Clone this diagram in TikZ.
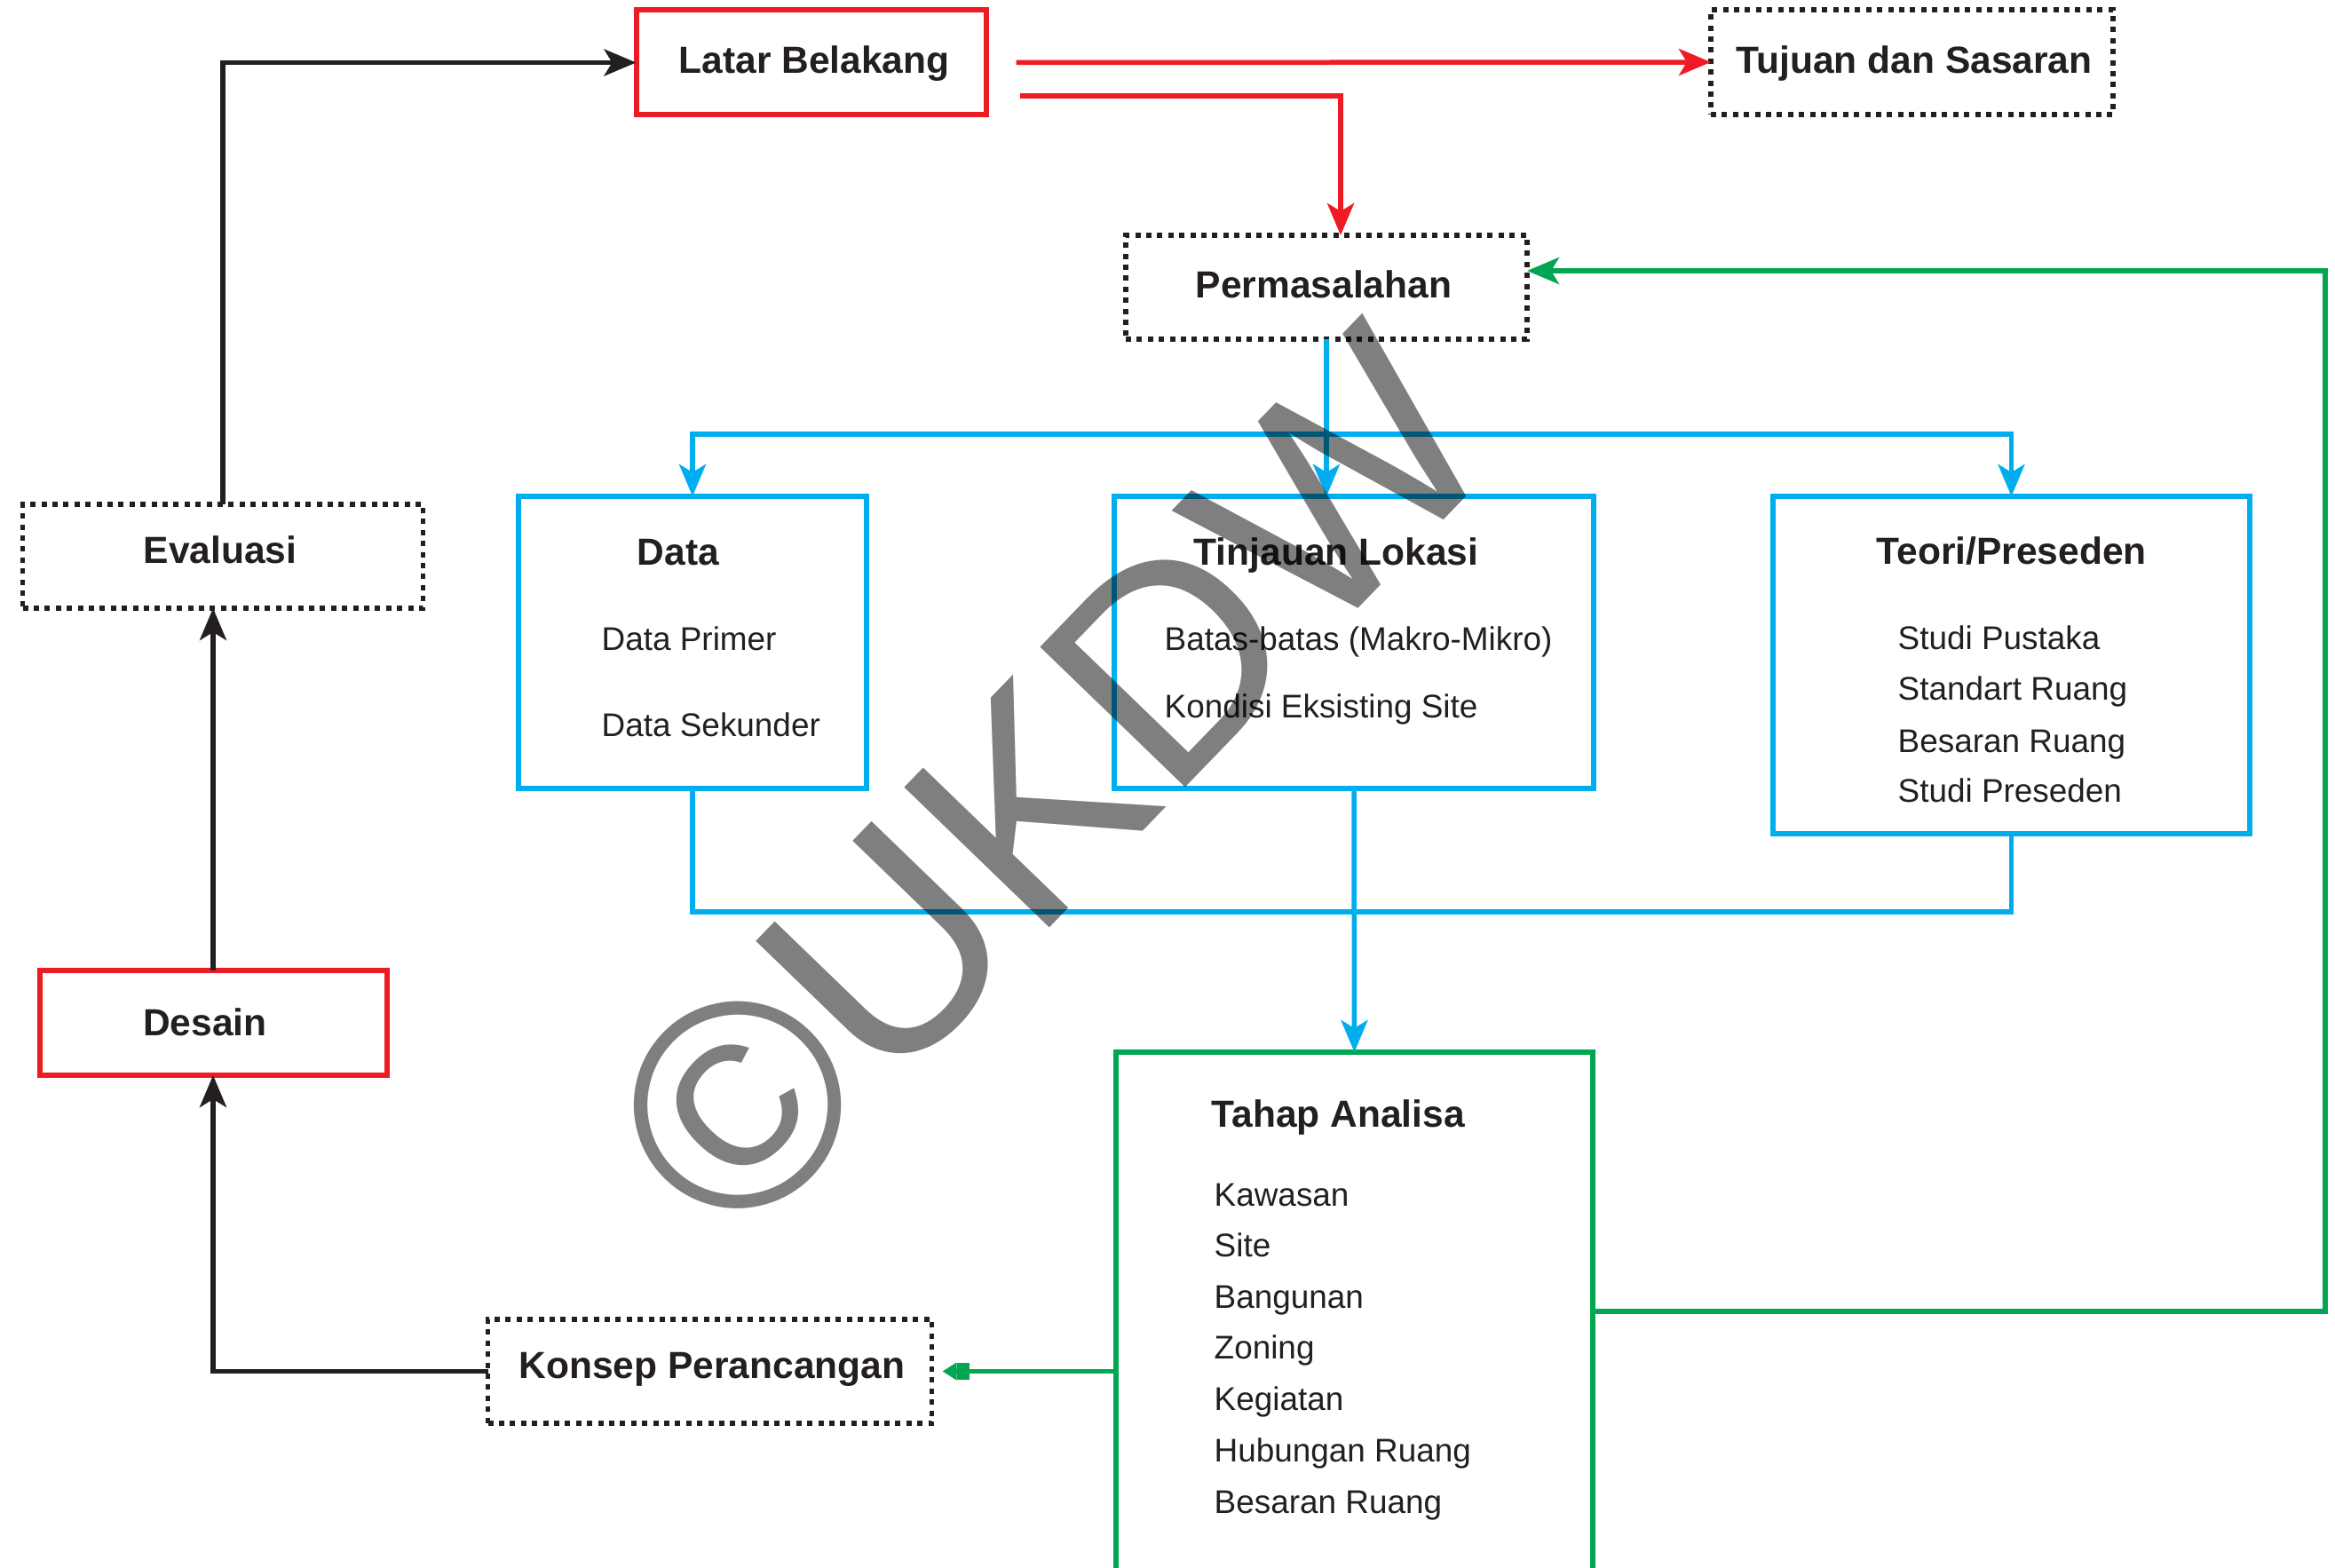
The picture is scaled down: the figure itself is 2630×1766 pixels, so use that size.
\documentclass[tikz,border=0pt]{standalone}
\usepackage{fontspec}
\setmainfont{Liberation Sans}
\usetikzlibrary{arrows.meta}
\definecolor{cred}{HTML}{ED1C24}
\definecolor{cblue}{HTML}{00AEEF}
\definecolor{cgreen}{HTML}{00A651}
\definecolor{cdark}{HTML}{231F20}
\tikzset{
  boxbase/.style={rectangle, inner sep=0pt, outer sep=0pt, line width=0.6mm},
  redbox/.style={boxbase, draw=cred},
  bluebox/.style={boxbase, draw=cblue},
  greenbox/.style={boxbase, draw=cgreen},
  dotbox/.style={boxbase, line width=0.55mm, draw=cdark, dash pattern=on 0.6mm off 0.64mm},
  ttl/.style={inner sep=0pt, anchor=base, text=cdark, font=\fontsize{12.1pt}{14pt}\selectfont\bfseries},
  ttlw/.style={ttl, anchor=base west},
  itm/.style={inner sep=0pt, anchor=base west, text=cdark, font=\fontsize{10.5pt}{13pt}\selectfont},
  conn/.style={line width=0.55mm},
  tipa/.style={-{Stealth[length=3.6mm,width=3mm,inset=0.9mm]}},
  tipb/.style={{Stealth[length=3.6mm,width=3mm,inset=0.9mm]}-{Stealth[length=3.6mm,width=3mm,inset=0.9mm]}},
  tipg/.style={-{Rectangle[length=1.4mm,width=1.9mm,sep=0pt]Triangle[length=1.6mm,width=1.9mm,sep=0pt]}},
}
\begin{document}
\begin{tikzpicture}[x=0.1mm,y=-0.1mm]
\useasboundingbox (0,0) rectangle (2630,1766);
\clip (0,0) rectangle (2630,1766);
\fill[white] (0,0) rectangle (2630,1766);

% boxes
\node[redbox, minimum width=39.4mm, minimum height=11.8mm] (lb) at (913.5,70.5) {};
\node[dotbox, minimum width=45.3mm, minimum height=11.8mm] (tj) at (2153.5,70) {};
\node[dotbox, minimum width=45.2mm, minimum height=11.7mm] (pm) at (1494,323.5) {};
\node[dotbox, minimum width=45.1mm, minimum height=11.7mm] (ev) at (251,626.5) {};
\node[redbox, minimum width=39.1mm, minimum height=11.8mm] (ds) at (240,1152) {};
\node[dotbox, minimum width=50.0mm, minimum height=11.7mm] (kp) at (799.5,1544.5) {};
\node[bluebox, minimum width=39.2mm, minimum height=32.9mm] (da) at (780,723.5) {};
\node[bluebox, minimum width=54.0mm, minimum height=32.9mm] (tl) at (1525,723.5) {};
\node[bluebox, minimum width=53.7mm, minimum height=38.0mm] (tp) at (2265.5,749) {};
\node[greenbox, minimum width=53.7mm, minimum height=62.1mm] (ta) at (1525.5,1495.5) {};

% connectors
\draw[conn, cdark, tipa] (ev.north) |- (lb.west);
\draw[conn, cdark, tipa] (ds.north) -- (ds.north |- ev.south);
\draw[conn, cdark, tipa] (kp.west) -| (ds.south);

\draw[conn, cred, tipa, shorten <=3.4mm] (lb.east) -- (tj.west);
\coordinate (r2) at (1149,108);
\coordinate (r2c) at (1510,108);
\draw[conn, cred, tipa] (r2) -- (r2c) -- (r2c |- pm.north);

\coordinate (gbr) at (2619,1477);
\coordinate (gtr) at (2619,305);
\draw[conn, cgreen, tipa] (gbr -| ta.east) -- (gbr) -- (gtr) -- (gtr -| pm.east);
\draw[conn, cgreen, tipg, shorten >=1.2mm] (ta.west |- kp.east) -- (kp.east);

\coordinate (bt) at (0,489);
\coordinate (bb) at (0,1027);
\draw[conn, cblue, tipa] (pm.south) -- (pm.south |- tl.north);
\draw[conn, cblue, tipb] (da.north) -- (da.north |- bt) -- (tp.north |- bt) -- (tp.north);
\draw[conn, cblue] (da.south) -- (da.south |- bb) -- (tp.south |- bb) -- (tp.south);
\draw[conn, cblue, tipa] (tl.south) -- (ta.north);

% texts
\node[ttl] (tlb) at (917,83) {Latar Belakang};
\node[ttl] (ttj) at (2156,83) {Tujuan dan Sasaran};
\node[ttl] (tpm) at (1491,336) {Permasalahan};
\node[ttl] (tev) at (248,635) {Evaluasi};
\node[ttl] (tds) at (231,1166) {Desain};
\node[ttl] (tkp) at (802,1552) {Konsep Perancangan};

\node[ttlw] (tda) at (717,637) {Data};
\node[itm] (da1) at (677,733) {Data Primer};
\node[itm] (da2) at (677,830) {Data Sekunder};

\node[ttlw] (ttl) at (1344,637) {Tinjauan Lokasi};
\node[itm] (tl1) at (1311,733) {Batas-batas (Makro-Mikro)};
\node[itm] (tl2) at (1311,809) {Kondisi Eksisting Site};

\node[ttlw] (ttp) at (2113,636) {Teori/Preseden};
\node[itm] (tp1) at (2137,732) {Studi Pustaka};
\node[itm] (tp2) at (2137,789) {Standart Ruang};
\node[itm] (tp3) at (2137,848) {Besaran Ruang};
\node[itm] (tp4) at (2137,904) {Studi Preseden};

\node[ttlw] (tta) at (1364,1269) {Tahap Analisa};
\node[itm] (ta1) at (1367,1358) {Kawasan};
\node[itm] (ta2) at (1367,1415) {Site};
\node[itm] (ta3) at (1367,1473) {Bangunan};
\node[itm] (ta4) at (1367,1530) {Zoning};
\node[itm] (ta5) at (1367,1588) {Kegiatan};
\node[itm] (ta6) at (1367,1646) {Hubungan Ruang};
\node[itm] (ta7) at (1367,1704) {Besaran Ruang};

% watermark
\node[anchor=base west, inner sep=0pt, rotate=46, text=black, opacity=0.5,
      font=\fontsize{94pt}{94pt}\selectfont] (wm) at (828,1412) {©UKDW};
\end{tikzpicture}
\end{document}
